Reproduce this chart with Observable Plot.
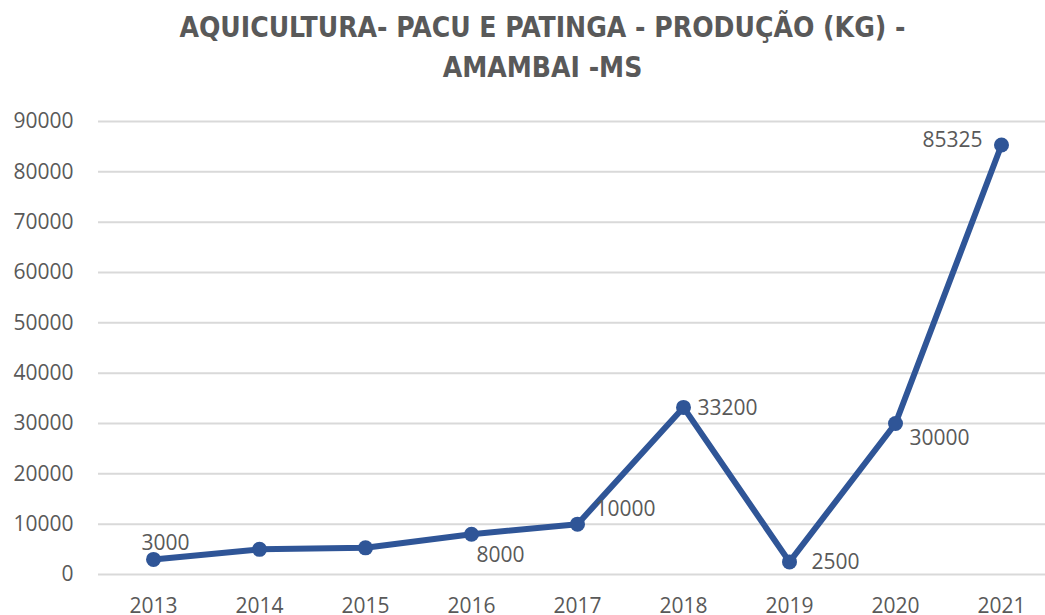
<!DOCTYPE html>
<html>
<head>
<meta charset="utf-8">
<script src="https://cdn.jsdelivr.net/npm/d3@7"></script>
<script src="https://cdn.jsdelivr.net/npm/@observablehq/plot@0.6"></script>
<style>
  body { margin: 0; background: #fff; }
  #title { width: 1045px; box-sizing: border-box; padding-left: 40px; height: 95px; text-align: center;
    font-family: "Liberation Sans Narrow", "DejaVu Sans Condensed", "Open Sans", sans-serif; font-weight: bold;
    font-size: 28px; line-height: 40px; color: #595959; padding-top: 8px; }
</style>
</head>
<body>
<div id="title">AQUICULTURA- PACU E PATINGA - PRODUÇÃO (KG) -<br>AMAMBAI -MS</div>
<div id="chart"></div>
<script>
const years = ["2013","2014","2015","2016","2017","2018","2019","2020","2021"];
const production = [3000, 5000, 5300, 8000, 10000, 33200, 2500, 30000, 85325];
const labelled = ["2013","2016","2017","2018","2019","2020","2021"];
const yTicks = [0,10000,20000,30000,40000,50000,60000,70000,80000,90000];

const data = years.map((y, i) => ({year: y, value: production[i]}));
const lab = data.filter(d => labelled.includes(d.year));
const color = "#2F5597";
const textColor = "#595959";
const txt = d => String(d.value);

const plot = Plot.plot({
  width: 1045,
  height: 520,
  marginLeft: 98,
  marginRight: 0,
  marginTop: 26,
  marginBottom: 41,
  style: {fontFamily: "'Open Sans', sans-serif", fontSize: "21px", color: textColor, background: "#fff"},
  x: {type: "point", domain: years, range: [98, 1055], padding: 0.5, label: null},
  y: {domain: [0, 90000], label: null},
  marks: [
    Plot.gridY(yTicks, {stroke: "#d9d9d9", strokeOpacity: 1, strokeWidth: 2}),
    Plot.axisY({ticks: yTicks, tickSize: 0, tickPadding: 25, tickFormat: d => String(d), label: null, fontSize: 21, fill: textColor}),
    Plot.axisX({tickSize: 0, tickPadding: 24, label: null, fontSize: 21, fill: textColor}),
    Plot.line(data, {x: "year", y: "value", stroke: color, strokeWidth: 6}),
    Plot.dot(data, {x: "year", y: "value", fill: color, r: 7.5}),
    Plot.text(lab.filter(d => d.year === "2013"), {x: "year", y: "value", text: txt, dx: 12, dy: -16, fill: textColor, fontSize: 21}),
    Plot.text(lab.filter(d => d.year === "2016"), {x: "year", y: "value", text: txt, dx: 29, dy: 21, fill: textColor, fontSize: 21}),
    Plot.text(lab.filter(d => d.year === "2017"), {x: "year", y: "value", text: txt, textAnchor: "start", dx: 18, dy: -15, fill: textColor, fontSize: 21}),
    Plot.text(lab.filter(d => d.year === "2018"), {x: "year", y: "value", text: txt, textAnchor: "start", dx: 14, dy: 1, fill: textColor, fontSize: 21}),
    Plot.text(lab.filter(d => d.year === "2019"), {x: "year", y: "value", text: txt, textAnchor: "start", dx: 22, dy: 0, fill: textColor, fontSize: 21}),
    Plot.text(lab.filter(d => d.year === "2020"), {x: "year", y: "value", text: txt, textAnchor: "start", dx: 14, dy: 15, fill: textColor, fontSize: 21}),
    Plot.text(lab.filter(d => d.year === "2021"), {x: "year", y: "value", text: txt, textAnchor: "end", dx: -19, dy: -5, fill: textColor, fontSize: 21})
  ]
});
document.getElementById("chart").appendChild(plot);
</script>
</body>
</html>
